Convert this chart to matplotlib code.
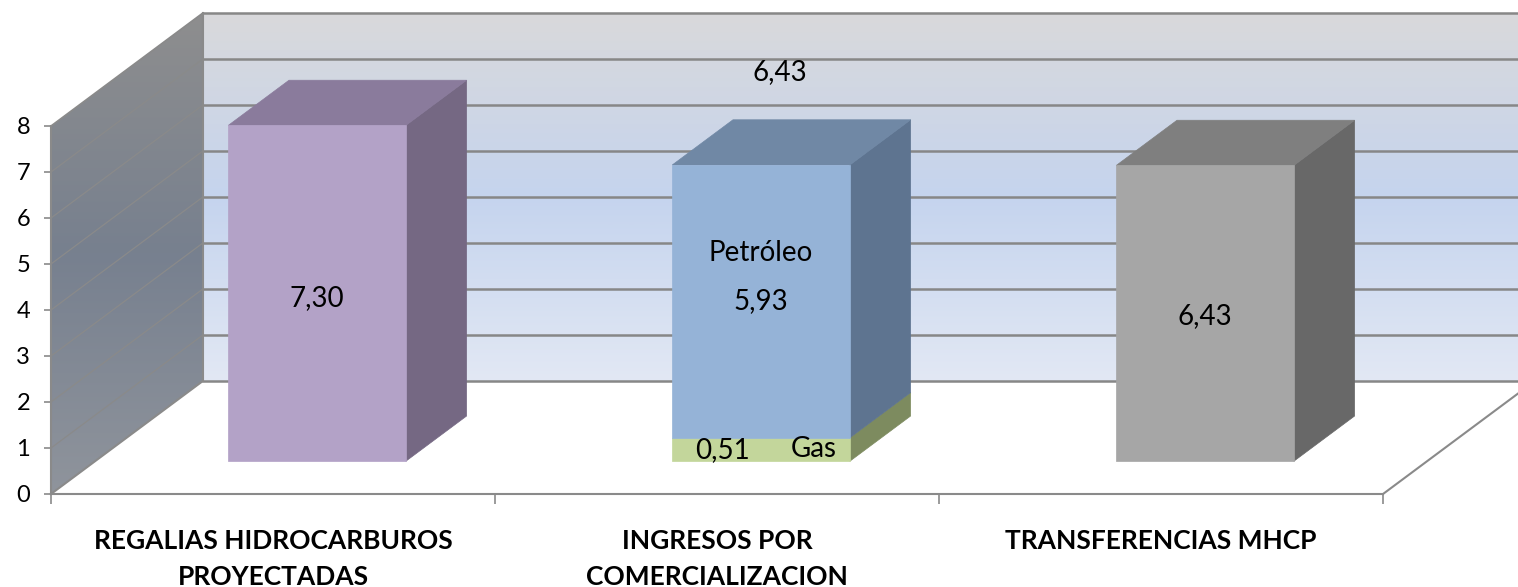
import matplotlib.pyplot as plt
import numpy as np
from matplotlib.patches import Polygon, Rectangle
from matplotlib.colors import LinearSegmentedColormap

# Datos (billones de pesos)
categorias = ['REGALIAS HIDROCARBUROS\nPROYECTADAS', 'INGRESOS POR\nCOMERCIALIZACION', 'TRANSFERENCIAS MHCP']
regalias = [7.30, 0, 0]
gas = [0, 0.51, 0]
petroleo = [0, 5.93, 0]
transferencias = [0, 0, 6.43]
total_comercializacion = 6.43
yticks = [0, 1, 2, 3, 4, 5, 6, 7, 8]

# series apiladas: nombre, valores, (frente, tapa, lado)
series = [
    ('Regalias', regalias, ('#b3a2c7', '#8a7b9c', '#756883')),
    ('Gas', gas, ('#c3d69b', '#a2b27f', '#7d8b5f')),
    ('Petróleo', petroleo, ('#95b3d7', '#7088a5', '#5e7490')),
    ('MHCP', transferencias, ('#a6a6a6', '#7f7f7f', '#686868')),
]

plt.rcParams['font.family'] = ['Lato', 'DejaVu Sans']

# proyeccion oblicua: vector de profundidad completa (en unidades de datos)
DX, DY = 0.342, 2.4565
Z0, Z1 = 0.29, 0.69   # profundidad de las barras
ANCHO = 0.4
YMAX = 8

fig = plt.figure(figsize=(15.18, 5.87), dpi=100)
ax = fig.add_axes([0, 0, 1, 1])
ax.set_facecolor('white')
xlim = (-0.6149, 2.804)
ylim = (-2.022, 10.739)


def gradiente(verts, colores, z):
    poly = Polygon(verts, closed=True, facecolor='none', edgecolor='none')
    ax.add_patch(poly)
    xs = [v[0] for v in verts]
    ys = [v[1] for v in verts]
    cmap = LinearSegmentedColormap.from_list('g', colores)
    img = np.linspace(0, 1, 256).reshape(-1, 1)
    im = ax.imshow(img, cmap=cmap, extent=(min(xs), max(xs), min(ys), max(ys)),
                   origin='lower', aspect='auto', zorder=z, interpolation='bilinear')
    im.set_clip_path(poly)


# pared del fondo
xa, xb = -0.5 + DX, 2.5 + DX
gradiente([(xa, DY), (xb, DY), (xb, DY + YMAX), (xa, DY + YMAX)],
          [(0, '#e2e8f4'), (0.5, '#c5d4ee'), (1, '#d9d9db')], 1)
# pared izquierda
gradiente([(-0.5, 0), (xa, DY), (xa, DY + YMAX), (-0.5, YMAX)],
          [(0, '#8f949c'), (0.5, '#77808f'), (1, '#8e8e8e')], 1)

# lineas de division
for k in yticks:
    ax.plot([xa, xb], [DY + k, DY + k], color='#878787', lw=1.8, zorder=2)
    if 0 < k < YMAX:
        ax.plot([-0.5, xa], [k, DY + k], color='#8a8a8a', lw=0.9, zorder=2)
ax.plot([-0.5, xa], [YMAX, DY + YMAX], color='#8a8a8a', lw=1.2, zorder=2)
ax.plot([xa, xa], [DY, DY + YMAX], color='#8a8a8a', lw=1.5, zorder=2)
# piso
ax.plot([-0.5, xa], [0, DY], color='#8a8a8a', lw=1.5, zorder=2)
ax.plot([2.5, xb], [0, DY], color='#8a8a8a', lw=1.5, zorder=2)

# barras 3D
def caja(xc, base, h, colores, tapa):
    frente, arriba, lado = colores
    x0 = xc - ANCHO / 2 + Z0 * DX
    y0 = base + Z0 * DY
    dx, dy = (Z1 - Z0) * DX, (Z1 - Z0) * DY
    ax.add_patch(Polygon([(x0 + ANCHO, y0), (x0 + ANCHO + dx, y0 + dy),
                          (x0 + ANCHO + dx, y0 + h + dy), (x0 + ANCHO, y0 + h)],
                         closed=True, facecolor=lado, edgecolor=lado, lw=0.5, zorder=3))
    if tapa:
        ax.add_patch(Polygon([(x0, y0 + h), (x0 + ANCHO, y0 + h),
                              (x0 + ANCHO + dx, y0 + h + dy), (x0 + dx, y0 + h + dy)],
                             closed=True, facecolor=arriba, edgecolor=arriba, lw=0.5, zorder=3))
    ax.add_patch(Rectangle((x0, y0), ANCHO, h, facecolor=frente, edgecolor=frente,
                           lw=0.5, zorder=4))
    return x0 + ANCHO / 2, y0 + h / 2


etiquetas = {}
for i in range(len(categorias)):
    base = 0
    vals = [(nombre, v[i], c) for nombre, v, c in series if v[i] > 0]
    for j, (nombre, v, c) in enumerate(vals):
        cx, cy = caja(i, base, v, c, j == len(vals) - 1)
        etiquetas[(i, nombre)] = (cx, cy, v)
        base += v

fs = 20
def fmt(v):
    return f'{v:.2f}'.replace('.', ',')

cx, cy, v = etiquetas[(0, 'Regalias')]
ax.text(cx, cy - 0.1, fmt(v), ha='center', va='center', fontsize=fs, zorder=5)
cx, cy, v = etiquetas[(1, 'Petróleo')]
ax.text(cx, cy + 1.05, 'Petróleo', ha='center', va='center', fontsize=fs, zorder=5)
ax.text(cx, cy, fmt(v), ha='center', va='center', fontsize=fs, zorder=5)
cx, cy, v = etiquetas[(1, 'Gas')]
ax.text(cx - 0.087, cy - 0.02, fmt(v), ha='center', va='center', fontsize=fs, zorder=5)
ax.text(cx + 0.119, cy, 'Gas', ha='center', va='center', fontsize=fs, zorder=5)
cx, cy, v = etiquetas[(2, 'MHCP')]
ax.text(cx, cy - 0.05, fmt(v), ha='center', va='center', fontsize=fs, zorder=5)
ax.text(etiquetas[(1, 'Gas')][0] + 0.043, 9.17, fmt(total_comercializacion),
        ha='center', va='center', fontsize=fs, zorder=5)

# ejes
for s in ['top', 'right']:
    ax.spines[s].set_visible(False)
ax.spines['left'].set_position(('data', -0.5))
ax.spines['left'].set_bounds(0, YMAX)
ax.spines['bottom'].set_position(('data', 0))
ax.spines['bottom'].set_bounds(-0.5, 2.5)
for s in ['left', 'bottom']:
    ax.spines[s].set_color('#8a8a8a')
    ax.spines[s].set_linewidth(1.5)
    ax.spines[s].set_zorder(2.5)

ax.set_yticks(yticks)
ax.set_yticklabels([str(t) for t in yticks])
ax.tick_params(axis='y', direction='out', length=5, width=1.2, color='#8a8a8a',
               labelsize=17, pad=10)
ax.set_xticks([-0.5, 0.5, 1.5, 2.5])
ax.set_xticklabels([])
ax.tick_params(axis='x', which='major', direction='out', length=7, width=1.2, color='#8a8a8a')
ax.set_xticks([0, 1, 2], minor=True)
ax.set_xticklabels(categorias, minor=True, fontweight='bold', fontsize=19, linespacing=1.6)
ax.tick_params(axis='x', which='minor', length=0, pad=25)

ax.set_xlim(*xlim)
ax.set_ylim(*ylim)

fig.savefig('out.png', dpi=100)
